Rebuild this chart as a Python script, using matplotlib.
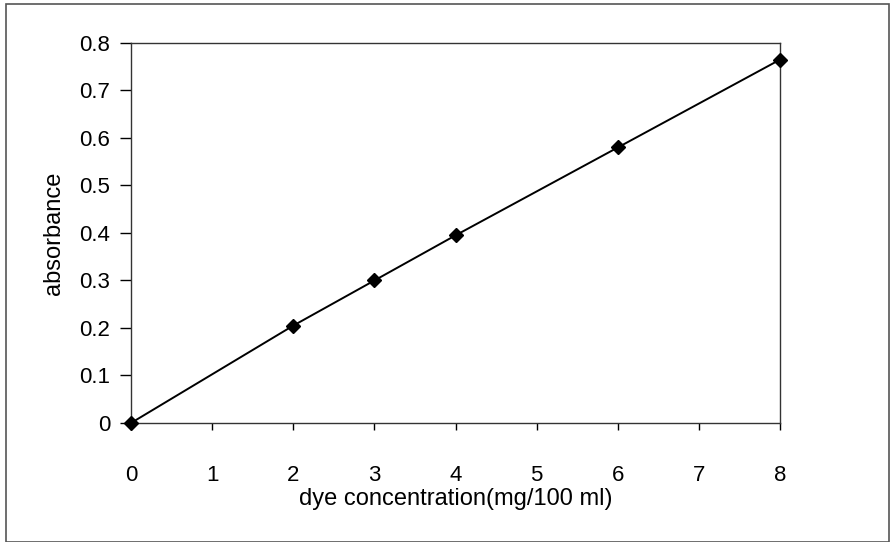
import matplotlib
matplotlib.use("Agg")
import matplotlib.pyplot as plt
from matplotlib.patches import Rectangle

# Calibration curve: dye concentration vs absorbance
concentration = [0, 2, 3, 4, 6, 8]
absorbance = [0.0, 0.205, 0.30, 0.395, 0.58, 0.765]
x_ticks = [0, 1, 2, 3, 4, 5, 6, 7, 8]
y_ticks = [0, 0.1, 0.2, 0.3, 0.4, 0.5, 0.6, 0.7, 0.8]
y_tick_labels = ["0", "0.1", "0.2", "0.3", "0.4", "0.5", "0.6", "0.7", "0.8"]

plt.rcParams["font.family"] = ["Liberation Sans", "DejaVu Sans"]

fig = plt.figure(figsize=(8.92, 5.42), dpi=100)
fig.patch.set_facecolor("white")

# outer frame around the whole chart
fig.patches.append(Rectangle((0.007, 0.0), 0.99, 0.992, transform=fig.transFigure,
                             fill=False, edgecolor="#555555", linewidth=1.2))

ax = fig.add_axes([0.1469, 0.2196, 0.7276, 0.7011])
ax.plot(concentration, absorbance, color="black", linewidth=1.4,
        marker="D", markersize=7, markerfacecolor="black", markeredgecolor="black",
        clip_on=False, zorder=5)

ax.set_xlim(0, 8)
ax.set_ylim(0, 0.8)
ax.set_xticks(x_ticks)
ax.set_yticks(y_ticks)
ax.set_yticklabels(y_tick_labels)
ax.tick_params(axis="x", direction="out", length=5, width=1, pad=25, labelsize=16)
ax.tick_params(axis="y", direction="out", length=8, width=1, pad=7, labelsize=16)
for s in ax.spines.values():
    s.set_color("#333333")
    s.set_linewidth(1.0)

ax.set_xlabel("dye concentration(mg/100 ml)", fontsize=17, labelpad=1.5)
ax.set_ylabel("absorbance", fontsize=17, labelpad=10)

fig.savefig("out.png", dpi=100, facecolor="white")
